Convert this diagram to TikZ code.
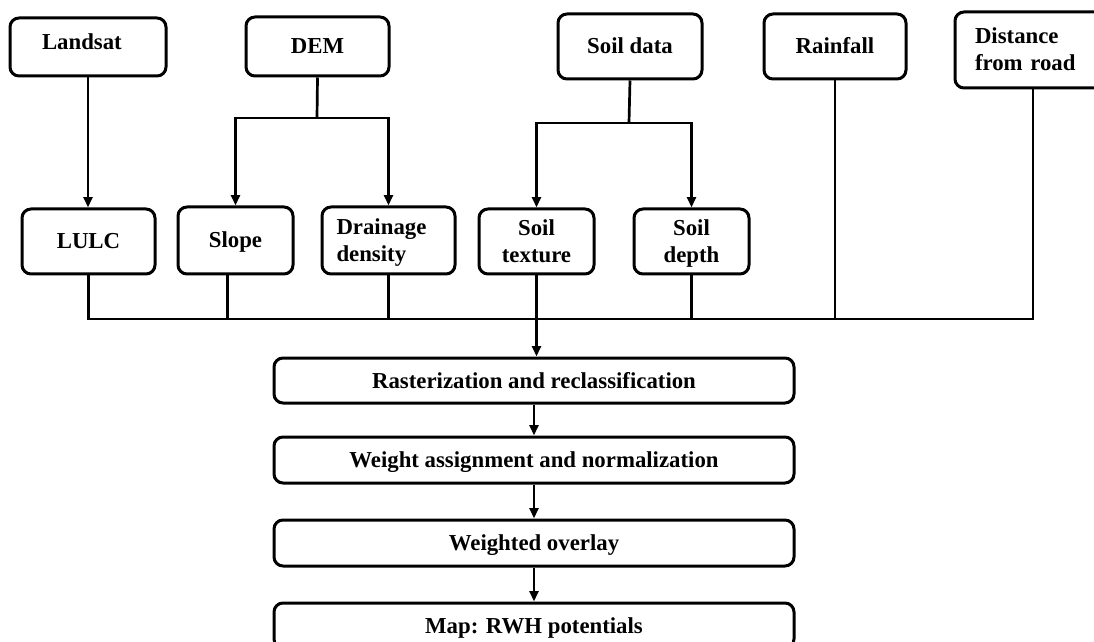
\documentclass[tikz,border=0pt]{standalone}
\usepackage{fontspec}
\setmainfont{Liberation Serif}
\usetikzlibrary{arrows.meta,calc}
\tikzset{
  box/.style={draw, line width=1.5pt, rounded corners=4.5pt, inner sep=0pt,
    font=\fontsize{11.4}{13.5}\selectfont\bfseries, align=center,
    text height=7.5pt, text depth=0pt},
  twoline/.style={text height=21pt, text depth=0pt},
  twolinew/.style={text height=7.5pt, text depth=13.5pt},
  conn/.style={line width=1.35pt},
  arr/.style={line width=1.35pt, -{Triangle[width=4.4pt,length=5.2pt]}},
}
\begin{document}
\begin{tikzpicture}[x=0.5pt,y=-0.5pt]
\clip (0,0) rectangle (1094,642);
\fill[white] (0,0) rectangle (1094,642);
% top row
\node[box, minimum width=78pt, minimum height=29pt, text width=62pt, align=left, text height=2.5pt] (landsat) at (88,47) {\hspace*{8pt}Landsat};
\node[box, minimum width=71.5pt, minimum height=29.5pt] (dem) at (317.5,46.5) {DEM};
\node[box, minimum width=72pt, minimum height=32.5pt] (soil) at (630,46.5) {Soil data};
\node[box, minimum width=71pt, minimum height=32.5pt] (rain) at (835,46.5) {Rainfall};
\node[box, twolinew, minimum width=75pt, minimum height=38pt, text width=55pt, align=left] (dist) at (1030,50) {Distance\\from road};
% middle row
\node[box, minimum width=66.5pt, minimum height=32.5pt] (lulc) at (88.5,241.5) {LULC};
\node[box, minimum width=57.5pt, minimum height=33.5pt] (slope) at (235.5,240.5) {Slope};
\node[box, twolinew, minimum width=66.5pt, minimum height=33.5pt, text width=52pt, align=left] (drain) at (388.5,240.5) {Drainage\\density};
\node[box, twoline, minimum width=57.5pt, minimum height=32.5pt] (texture) at (536.5,241.5) {Soil\\texture};
\node[box, twoline, minimum width=57.5pt, minimum height=32.5pt] (depth) at (691.5,241.5) {Soil\\depth};
% process column
\node[box, minimum width=260pt, minimum height=22.5pt] (raster) at (534,380.5) {Rasterization and reclassification};
\node[box, minimum width=260pt, minimum height=23pt] (weight) at (534,460) {Weight assignment and normalization};
\node[box, minimum width=260pt, minimum height=23pt] (overlay) at (534,543) {Weighted overlay};
\node[box, minimum width=260pt, minimum height=22.5pt] (map) at (534,625.5) {Map: RWH potentials};
% junctions
\coordinate (demJ) at (317,118);
\coordinate (soilJ) at (629,123);
\coordinate (busR) at (1033,319);
% connectors
\draw[arr] (landsat.south) -- (landsat.south |- lulc.north);
\draw[conn] (dem.south) -- (demJ);
\draw[arr] (demJ) -| (slope.north);
\draw[arr] (demJ) -| (drain.north);
\draw[conn] (soil.south) -- (soilJ);
\draw[arr] (soilJ) -| (texture.north);
\draw[arr] (soilJ) -| (depth.north);
\draw[conn] (lulc.south) |- (busR) -- (busR |- dist.south);
\draw[conn] ([xshift=-4pt]slope.south) -- ([xshift=-4pt]slope.south |- busR);
\draw[conn] (drain.south) -- (drain.south |- busR);
\draw[conn] (depth.south) -- (depth.south |- busR);
\draw[conn] (rain.south) -- (rain.south |- busR);
\draw[arr] (texture.south) -- (texture.south |- raster.north);
\draw[arr] (raster) -- (weight);
\draw[arr] (weight) -- (overlay);
\draw[arr] (overlay) -- (map);
\end{tikzpicture}
\end{document}
